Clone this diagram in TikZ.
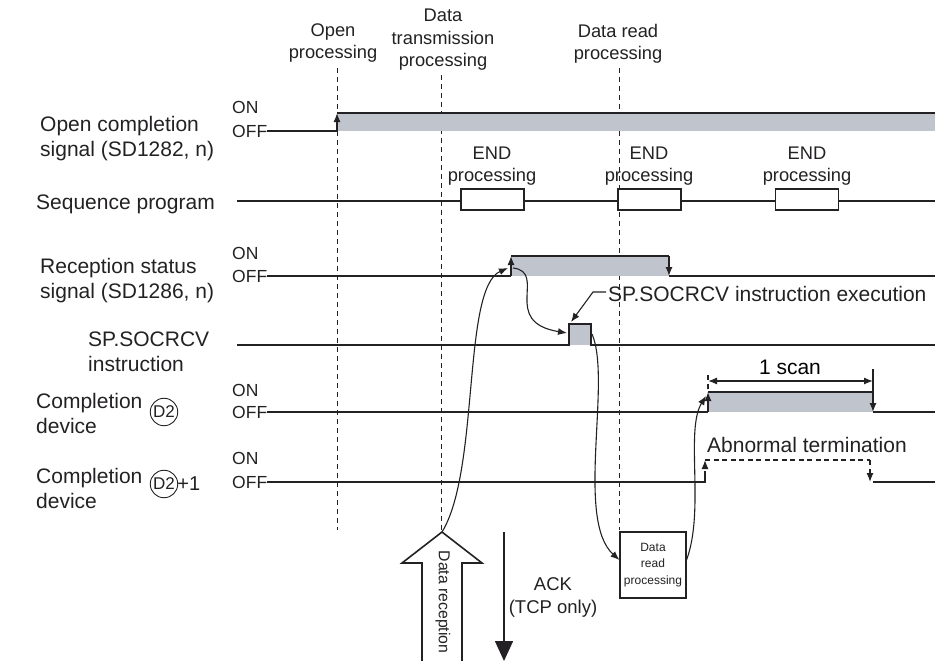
\documentclass[tikz,border=0pt]{standalone}
\usepackage{fontspec}
\setmainfont{Liberation Sans}
\usetikzlibrary{arrows.meta}
\definecolor{pulsegray}{RGB}{192,196,204}
\definecolor{inkgray}{RGB}{35,33,35}

\begin{document}
\begin{tikzpicture}[
  x=1pt,
  y=-1pt,
  >={Latex[length=9pt,width=7pt]},
  font=\fontsize{21}{25}\selectfont,
  wave/.style={draw=inkgray, line width=1.3pt},
  guide/.style={draw=inkgray, line width=1pt, dash pattern=on 5pt off 4pt},
  abnwave/.style={draw=inkgray, line width=1.3pt, dash pattern=on 5pt off 3.5pt},
  flow/.style={draw=inkgray, line width=1.1pt, ->},
  signame/.style={inner sep=0pt, align=left, anchor=west, text=inkgray},
  onoff/.style={inner sep=0pt, anchor=west, text=inkgray, font=\fontsize{17.5}{20}\selectfont},
  headnote/.style={inner sep=0pt, align=center, text=inkgray, font=\fontsize{18.3}{22.5}\selectfont},
  endbox/.style={draw=inkgray, line width=1.3pt, fill=white, inner sep=0pt,
    minimum width=63pt, minimum height=21pt},
  devmark/.style={circle, draw=inkgray, line width=0.9pt, inner sep=1pt,
    text=inkgray, font=\fontsize{17}{17}\selectfont}
]
\useasboundingbox (0,0) rectangle (935,661);

% ---------------------------------------------------------------------------
% Processing timings (dashed guides)
% ---------------------------------------------------------------------------
\node[headnote] (openNote) at (333,43) {Open\\processing};
\node[headnote] (sendNote) at (443,40) {Data\\transmission\\processing};
\node[headnote] (readNote) at (618,44) {Data read\\processing};
\coordinate (openTopG) at (337,68);
\coordinate (openBotG) at (337,530);
\coordinate (sendTopG) at (441,75);
\coordinate (sendBotG) at (441,530);
\coordinate (readTopG) at (619,68);
\coordinate (readBotG) at (619,530);
\draw[guide] (openTopG) -- (openBotG);
\draw[guide] (sendTopG) -- (sendBotG);
\draw[guide] (readTopG) -- (readBotG);

% ---------------------------------------------------------------------------
% Open completion signal
% ---------------------------------------------------------------------------
\node[signame] (openSig) at (40,139) {Open completion\\signal (SD1282, n)};
\node[onoff] (onOpen) at (232,107) {ON};
\node[onoff] (offOpen) at (232,131) {OFF};
\coordinate (openLow) at (337,131);
\coordinate (openHigh) at (337,113);
\coordinate (openEnd) at (935,113);
\fill[pulsegray] (openHigh) rectangle (openEnd |- openLow);
\draw[wave] (offOpen.east) -- (openLow);
\draw[wave, ->] (openLow) -- (openHigh);
\draw[wave] (openHigh) -- (openEnd);

% ---------------------------------------------------------------------------
% Sequence program with END processing
% ---------------------------------------------------------------------------
\node[signame] (seqSig) at (36,204) {Sequence program};
\coordinate (seqStart) at (237,201);
\coordinate (seqEnd) at (935,201);
\draw[wave] (seqStart) -- (seqEnd);
\node[endbox] (endA) at (492.5,199.5) {};
\node[endbox] (endB) at (649.5,199.5) {};
\node[endbox] (endC) at (807,199.5) {};
\node[headnote] (endANote) at (492,166) {END\\processing};
\node[headnote] (endBNote) at (649,166) {END\\processing};
\node[headnote] (endCNote) at (807,166) {END\\processing};

% ---------------------------------------------------------------------------
% Reception status signal
% ---------------------------------------------------------------------------
\node[signame] (recvSig) at (40,281) {Reception status\\signal (SD1286, n)};
\node[onoff] (onRecv) at (232,253) {ON};
\node[onoff] (offRecv) at (232,276) {OFF};
\coordinate (recvLow) at (511,276);
\coordinate (recvHigh) at (511,256);
\coordinate (recvTop) at (669,256);
\coordinate (recvFall) at (669,276);
\coordinate (recvEnd) at (935,276);
\fill[pulsegray] (recvHigh) rectangle (recvFall);
\draw[wave] (offRecv.east) -- (recvLow);
\draw[wave, ->] (recvLow) -- (recvHigh);
\draw[wave] (recvHigh) -- (recvTop);
\draw[wave, ->] (recvTop) -- (recvFall);
\draw[wave] (recvFall) -- (recvEnd);

% ---------------------------------------------------------------------------
% SP.SOCRCV instruction
% ---------------------------------------------------------------------------
\node[signame] (spSig) at (88,352) {SP.SOCRCV\\instruction};
\coordinate (spStart) at (237,345);
\coordinate (spLowA) at (569,345);
\coordinate (spHighA) at (569,324);
\coordinate (spHighB) at (591,324);
\coordinate (spLowB) at (591,345);
\coordinate (spEnd) at (935,345);
\fill[pulsegray] (spHighA) rectangle (spLowB);
\draw[wave] (spStart) -- (spLowA) -- (spHighA) -- (spHighB) -- (spLowB) -- (spEnd);
\node[signame] (execNote) at (608,294) {SP.SOCRCV instruction execution};
\coordinate (execKnee) at (593,292);
\coordinate (execTip) at (571,322);
\draw[flow] ([xshift=-2pt,yshift=2pt]execNote.west) -- (execKnee) -- (execTip);

% ---------------------------------------------------------------------------
% Completion device D2
% ---------------------------------------------------------------------------
\node[signame] (doneSig) at (36,413) {Completion\\device};
\node[devmark] (devA) at (164,412) {D2};
\node[onoff] (onDone) at (232,390) {ON};
\node[onoff] (offDone) at (232,412) {OFF};
\coordinate (doneLow) at (708,412);
\coordinate (doneHigh) at (708,392);
\coordinate (doneTop) at (873,392);
\coordinate (doneFall) at (873,412);
\coordinate (doneEnd) at (935,412);
\fill[pulsegray] (doneHigh) rectangle (doneFall);
\draw[wave] (offDone.east) -- (doneLow);
\draw[wave, ->] (doneLow) -- (doneHigh);
\draw[wave] (doneHigh) -- (doneTop);
\draw[wave, ->] (doneTop) -- (doneFall);
\draw[wave] (doneFall) -- (doneEnd);
% one scan
\coordinate (scanL) at (708,381);
\coordinate (scanR) at (873,381);
\draw[abnwave] (708,375) -- (doneHigh);
\draw[wave] (873,369) -- (doneTop);
\draw[wave, <->] (scanL) -- (scanR);
\node (scanNote) at (790,367) {1 scan};

% ---------------------------------------------------------------------------
% Completion device D2+1 (abnormal termination)
% ---------------------------------------------------------------------------
\node[signame] (errSig) at (36,488) {Completion\\device};
\node[devmark] (devB) at (164,484) {D2};
\node[anchor=west, inner sep=0pt, text=inkgray, font=\fontsize{20}{20}\selectfont]
  (devBplus) at ([xshift=-1pt]devB.east) {+1};
\node[onoff] (onErr) at (232,458) {ON};
\node[onoff] (offErr) at (232,482) {OFF};
\coordinate (errLow) at (705,482);
\coordinate (errStep) at (705,476);
\coordinate (errHigh) at (705,460);
\coordinate (errTop) at (870,460);
\coordinate (errFall) at (870,482);
\coordinate (errEnd) at (935,482);
\draw[wave] (offErr.east) -- (errLow) -- (errStep);
\draw[abnwave, ->] (errStep) -- (errHigh);
\draw[abnwave] (errHigh) -- (errTop);
\draw[abnwave, ->] (errTop) -- (errFall);
\draw[wave] ([xshift=3pt]errFall) -- (errEnd);
\node[signame] (abnNote) at (707,445) {Abnormal termination};

% ---------------------------------------------------------------------------
% Data reception, ACK and data read processing
% ---------------------------------------------------------------------------
\coordinate (rxTip) at (442,532);
\draw[draw=inkgray, line width=1.6pt, fill=white]
  (422,662) -- (422,563) -- (402,563) -- (rxTip) -- (482,563) -- (462,563) -- (462,662);
\node[rotate=-90, inner sep=0pt, text=inkgray, font=\fontsize{15.8}{18}\selectfont]
  (rxNote) at (443,602) {Data reception};
\coordinate (ackTop) at (504,532);
\coordinate (ackBot) at (504,661);
\draw[draw=inkgray, line width=1.6pt, -{Triangle[length=20pt,width=18pt]}] (ackTop) -- (ackBot);
\node[headnote, font=\fontsize{18.5}{23}\selectfont] (ackNote) at (553,597) {ACK\\(TCP only)};
\node[draw=inkgray, line width=1.1pt, minimum width=66pt, minimum height=66pt, inner sep=0pt,
  align=center, text=inkgray, font=\fontsize{12}{16.5}\selectfont]
  (readBox) at (653,565) {Data\\read\\processing};

% causal flow
\draw[flow] (rxTip) .. controls (480,470) and (462,288) .. ([xshift=-3pt,yshift=8pt]recvLow);
\draw[flow] ([xshift=2pt,yshift=8pt]recvLow) .. controls (548,272) and (500,322) .. ([xshift=-2pt,yshift=12pt]spLowA);
\draw[flow] ([xshift=1pt,yshift=11pt]spLowB) .. controls (612,380) and (575,520) .. ([yshift=5pt]readBox.west);
\draw[flow] ([yshift=5pt]readBox.east) .. controls (705,510) and (685,430) .. ([xshift=-2pt,yshift=-4pt]doneHigh);

\end{tikzpicture}
\end{document}
